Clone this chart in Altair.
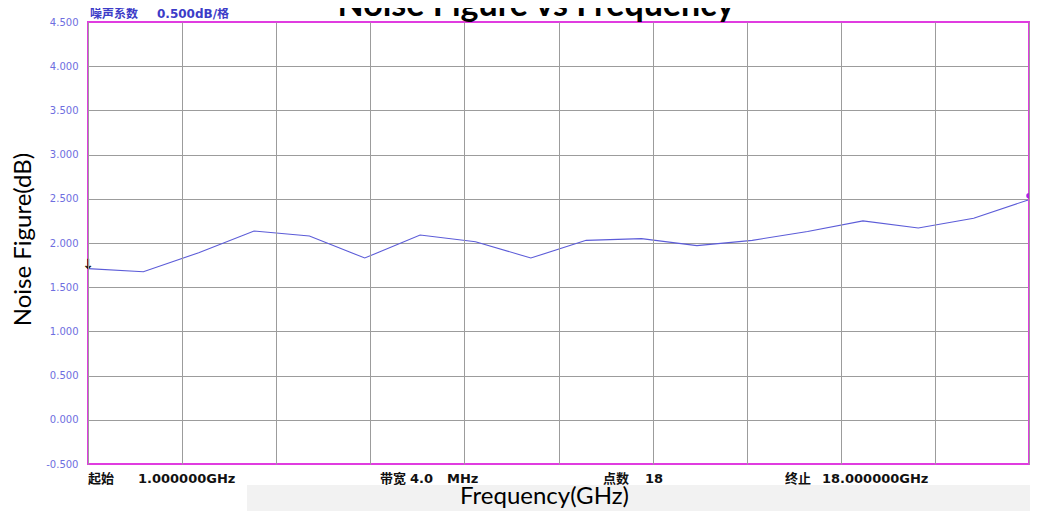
import altair as alt
import pandas as pd

# ---- data ----
freq_ghz = [1, 2, 3, 4, 5, 6, 7, 8, 9, 10, 11, 12, 13, 14, 15, 16, 17, 18]
noise_figure_db = [1.71, 1.675, 1.89, 2.135, 2.08, 1.83, 2.09, 2.015, 1.83,
                   2.03, 2.05, 1.97, 2.03, 2.13, 2.25, 2.17, 2.28, 2.49]
y_ticks = [-0.5, 0.0, 0.5, 1.0, 1.5, 2.0, 2.5, 3.0, 3.5, 4.0, 4.5]
x_grid = [1.0, 2.7, 4.4, 6.1, 7.8, 9.5, 11.2, 12.9, 14.6, 16.3, 18.0]

title_text = "Noise Figure vs Frequency"
x_title = "Frequency(GHz)"
y_title = "Noise Figure(dB)"
top_label = ["噪声系数", "0.500dB/格"]
bottom_labels = ["起始", "1.000000GHz", "带宽", "4.0", "MHz", "点数", "18", "终止", "18.000000GHz"]

# ---- layout ----
W, H = 941, 442
top_label_x = [2, 69]
bottom_label_x = [0, 50, 292, 322, 359, 515, 557, 697, 734]

df = pd.DataFrame({"freq": freq_ghz, "nf": noise_figure_db})
one = pd.DataFrame({"k": [0]})

xscale = alt.Scale(domain=[1, 18], nice=False, zero=False)
yscale = alt.Scale(domain=[-0.5, 4.5], nice=False, zero=False)

GRID = "#9c9c9c"

line = alt.Chart(df).mark_line(color="#5c5cd8", strokeWidth=1.1).encode(
    x=alt.X("freq:Q", scale=xscale,
            axis=alt.Axis(values=x_grid, labels=False, ticks=False, domain=False,
                          grid=True, gridColor=GRID, gridWidth=1, zindex=2,
                          title=x_title, titleFont="Lato", titleFontSize=24,
                          titleFontWeight="normal", titleColor="#000000",
                          titleX=456, titleY=39, titleAlign="center",
                          titleBaseline="alphabetic")),
    y=alt.Y("nf:Q", scale=yscale,
            axis=alt.Axis(values=y_ticks,
                          labelExpr="datum.value < 0 ? '-' + format(-datum.value, '.3f') : format(datum.value, '.3f')",
                          labelFont="DejaVu Sans",
                          labelFontSize=10, labelColor="#6e6ee0", ticks=False,
                          domain=False, labelPadding=10, grid=True,
                          gridColor=GRID, gridWidth=1,
                          title=y_title, titleFont="Lato", titleFontSize=24,
                          titleFontWeight="normal", titleColor="#000000",
                          titleAngle=270, titleX=-65, titleY=217,
                          titleAlign="center", titleBaseline="middle")),
)

border = alt.Chart(one).mark_rect(
    fillOpacity=0, stroke="#e03ce0", strokeWidth=2
).encode(x=alt.value(0), x2=alt.value(W), y=alt.value(0), y2=alt.value(H))

start_marker = alt.Chart(df.iloc[[0]]).mark_text(
    text="↓", font="DejaVu Sans", fontSize=14, fontWeight="bold", color="#111111",
    baseline="bottom", dy=3
).encode(x=alt.X("freq:Q", scale=xscale), y=alt.Y("nf:Q", scale=yscale))

end_marker = alt.Chart(df.iloc[[-1]]).mark_point(
    shape="circle", filled=True, size=30, color="#b020e0", opacity=1
).encode(x=alt.X("freq:Q", scale=xscale), y=alt.Y("nf:Q", scale=yscale), yOffset=alt.value(-4))

layers = [line, border, start_marker, end_marker]

for t, xp in zip(top_label, top_label_x):
    layers.append(
        alt.Chart(pd.DataFrame({"t": [t]})).mark_text(
            font="DejaVu Sans, Noto Sans CJK SC", fontSize=12, fontWeight="bold",
            color="#3c3cc8", align="left", baseline="alphabetic"
        ).encode(text="t:N", x=alt.value(xp), y=alt.value(-4))
    )

for t, xp in zip(bottom_labels, bottom_label_x):
    layers.append(
        alt.Chart(pd.DataFrame({"t": [t]})).mark_text(
            font="DejaVu Sans, Noto Sans CJK SC", fontSize=13, fontWeight="bold",
            color="#111111", align="left", baseline="alphabetic"
        ).encode(text="t:N", x=alt.value(xp), y=alt.value(461))
    )

# light watermark band at the bottom
band = alt.Chart(one).mark_rect(color="#f2f2f2").encode(
    x=alt.value(159), x2=alt.value(W + 1), y=alt.value(463), y2=alt.value(489)
)
layers.append(band)

title = alt.Chart(pd.DataFrame({"t": [title_text]})).mark_text(
    font="Lato", fontSize=34, fontWeight="bold", color="#000000",
    align="center", baseline="alphabetic"
).encode(text="t:N", x=alt.value(448), y=alt.value(-6))
layers.append(title)

chart = alt.layer(*layers).properties(
    width=W, height=H,
    autosize=alt.AutoSizeParams(type="none"),
    padding={"left": 80, "top": 14, "right": 1, "bottom": 47},
    background="#ffffff",
).configure_view(stroke=None)

chart.save("out.html", embed_options={"renderer": "svg", "actions": False})
